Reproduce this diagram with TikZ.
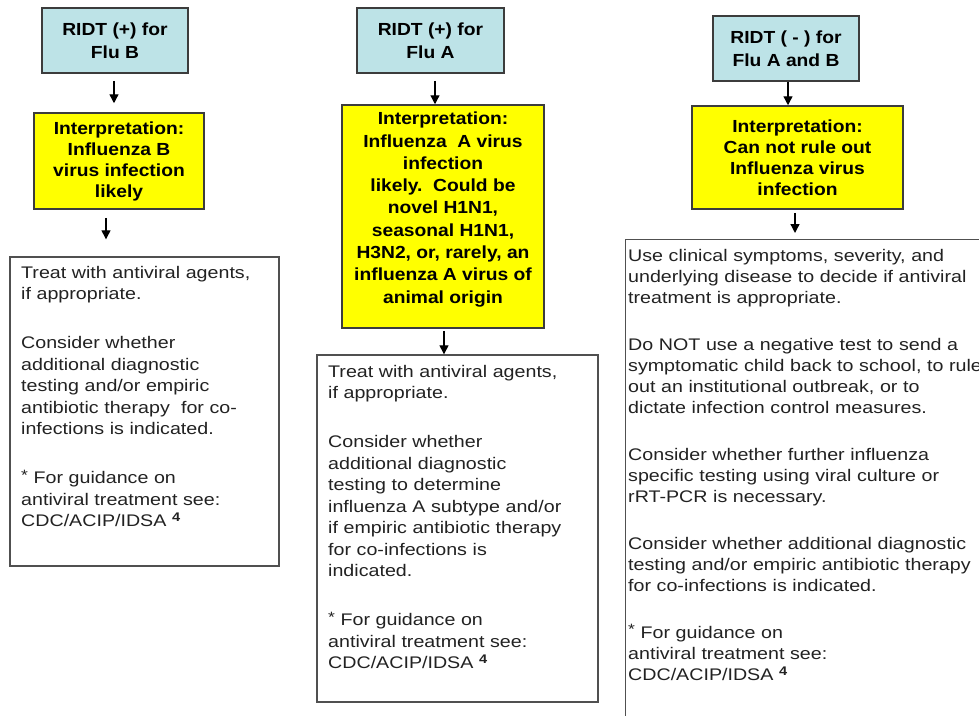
\documentclass[tikz,border=0pt]{standalone}
\usepackage{fontspec}
\setmainfont{Liberation Sans}
\newfontfamily\bodyfont[FakeStretch=1.17]{Liberation Sans}
\newfontfamily\headfont[FakeStretch=1.1]{Liberation Sans}
\usetikzlibrary{arrows.meta}
\definecolor{rblue}{HTML}{BDE3E7}
\definecolor{ryellow}{HTML}{FFFF00}
\definecolor{edge}{HTML}{3C3C3C}
\definecolor{wedge}{HTML}{505050}
\definecolor{txt}{HTML}{222222}
\newcommand{\astmark}{\raisebox{3.5pt}{\fontsize{15}{15}\selectfont *}}
\newcommand{\refmark}{\ \raisebox{5pt}{\fontsize{12.5}{12.5}\selectfont\bfseries 4}}
\begin{document}
\begin{tikzpicture}[x=1pt,y=-1pt,
  testbox/.style={draw=edge, line width=1.5pt, fill=rblue, minimum width=146pt,
    minimum height=65pt, align=center, inner sep=0pt, text=black,
    font=\headfont\bfseries\fontsize{17.5}{23.5}\selectfont},
  interp/.style={draw=edge, line width=1.5pt, fill=ryellow, align=center,
    inner sep=0pt, text=black, font=\headfont\bfseries\fontsize{17.5}{21}\selectfont},
  headtext/.style={align=center, inner sep=0pt, text=black,
    font=\headfont\bfseries\fontsize{17.5}{22.3}\selectfont},
  actbox/.style={draw=wedge, line width=1.4pt, fill=white, inner sep=0pt},
  bodytext/.style={anchor=base west, inner sep=0pt, align=left, text width=420pt,
    text=txt, font=\bodyfont\fontsize{16.8}{21.5}\selectfont},
  arr/.style={-{Triangle[width=9pt,length=9pt]}, line width=1.3pt, black}]
\useasboundingbox (0,0) rectangle (979,715);
\clip (0,0) rectangle (979,715);
\fill[white] (0,0) rectangle (979,715);

% column 1
\node[testbox] (b1) at (115,40.5) {RIDT (+) for\\Flu B};
\node[interp, minimum width=170pt, minimum height=96pt] (y1) at (119,161)
  {Interpretation:\\Influenza B\\virus infection\\likely};
\node[actbox, minimum width=269pt, minimum height=309pt] (w1) at (144.5,411.5) {};
\node[bodytext] (t1) at (21,278) {Treat with antiviral agents,\\
if appropriate.\\[27.5pt]
Consider whether\\
additional diagnostic\\
testing and/or empiric\\
antibiotic therapy\ \ for co-\\
infections is indicated.\\[27.5pt]
\astmark\ For guidance on\\
antiviral treatment see:\\
CDC/ACIP/IDSA\refmark};

% column 2
\node[testbox, minimum width=147pt] (b2) at (430.5,40.5) {RIDT (+) for\\Flu A};
\node[interp, minimum width=202pt, minimum height=223pt] (y2) at (443,216.5) {};
\node[headtext] (y2t) at (443,209.5)
  {Interpretation:\\Influenza\ \ A virus\\infection\\likely.\ \ Could be\\novel H1N1,\\seasonal H1N1,\\H3N2, or, rarely, an\\influenza A virus of\\animal origin};
\node[actbox, minimum width=281pt, minimum height=347pt] (w2) at (457.5,528.5) {};
\node[bodytext] (t2) at (328,377) {Treat with antiviral agents,\\
if appropriate.\\[27.5pt]
Consider whether\\
additional diagnostic\\
testing to determine\\
influenza A subtype and/or\\
if empiric antibiotic therapy\\
for co-infections is\\
indicated.\\[27.5pt]
\astmark\ For guidance on\\
antiviral treatment see:\\
CDC/ACIP/IDSA\refmark};

% column 3
\node[testbox] (b3) at (786,48.5) {RIDT ( - ) for\\Flu A and B};
\node[interp, minimum width=211pt, minimum height=103pt] (y3) at (797.5,157.5)
  {Interpretation:\\Can not rule out\\Influenza virus\\infection};
\node[actbox, minimum width=380pt, minimum height=500pt, anchor=north west] (w3) at (625,239) {};
\node[bodytext, font=\bodyfont\fontsize{16.8}{21}\selectfont] (t3) at (628,261) {Use clinical symptoms, severity, and\\
underlying disease to decide if antiviral\\
treatment is appropriate.\\[26pt]
Do NOT use a negative test to send a\\
symptomatic child back to school, to rule\\
out an institutional outbreak, or to\\
dictate infection control measures.\\[26pt]
Consider whether further influenza\\
specific testing using viral culture or\\
rRT-PCR is necessary.\\[26pt]
Consider whether additional diagnostic\\
testing and/or empiric antibiotic therapy\\
for co-infections is indicated.\\[26pt]
\astmark\ For guidance on\\
antiviral treatment see:\\
CDC/ACIP/IDSA\refmark};

% arrow x positions
\coordinate (ax1) at (114,0);
\coordinate (ax2) at (106,0);
\coordinate (ax3) at (435,0);
\coordinate (ax4) at (444,0);
\coordinate (ax5) at (788,0);
\coordinate (ax6) at (795,0);

\draw[arr, shorten <=7pt, shorten >=9pt] (b1.south -| ax1) -- (y1.north -| ax1);
\draw[arr, shorten <=8pt, shorten >=17pt] (y1.south -| ax2) -- (w1.north -| ax2);
\draw[arr, shorten <=7pt] (b2.south -| ax3) -- (y2.north -| ax3);
\draw[arr, shorten <=2pt] (y2.south -| ax4) -- (w2.north -| ax4);
\draw[arr] (b3.south -| ax5) -- (y3.north -| ax5);
\draw[arr, shorten <=3pt, shorten >=6pt] (y3.south -| ax6) -- (w3.north -| ax6);
\end{tikzpicture}
\end{document}
